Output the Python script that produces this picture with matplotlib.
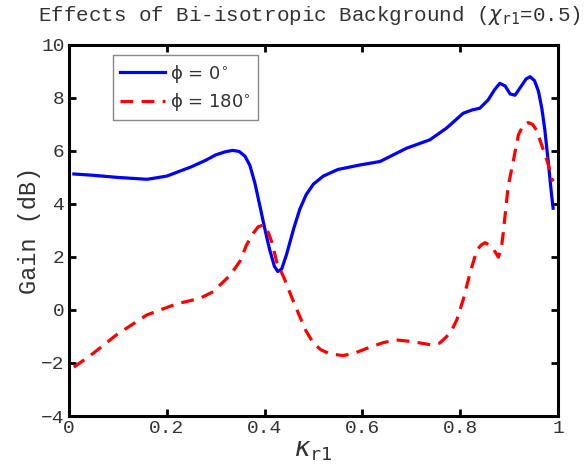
import matplotlib
matplotlib.use('Agg')
import matplotlib.pyplot as plt

# values
kappa_0 = [0.01, 0.05, 0.10, 0.16, 0.20, 0.25, 0.28, 0.30, 0.32, 0.335, 0.348, 0.36,
           0.37, 0.38, 0.39, 0.40, 0.41, 0.42, 0.427, 0.435, 0.445, 0.46, 0.472,
           0.485, 0.50, 0.52, 0.55, 0.595, 0.636, 0.69, 0.738, 0.772, 0.806, 0.825,
           0.84, 0.857, 0.87, 0.881, 0.892, 0.902, 0.912, 0.925, 0.935, 0.943, 0.952,
           0.96, 0.967, 0.973, 0.98, 0.986, 0.99]
gain_0 = [5.13, 5.08, 5.0, 4.93, 5.05, 5.4, 5.65, 5.85, 5.97, 6.02, 5.98, 5.8,
          5.45, 4.8, 3.96, 3.1, 2.3, 1.65, 1.45, 1.55, 2.1, 3.1, 3.8,
          4.35, 4.75, 5.05, 5.3, 5.47, 5.6, 6.1, 6.42, 6.86, 7.42, 7.55,
          7.61, 7.92, 8.3, 8.55, 8.45, 8.15, 8.1, 8.45, 8.72, 8.8, 8.65,
          8.25, 7.6, 6.8, 5.6, 4.5, 3.84]

kappa_180 = [0.01, 0.05, 0.097, 0.159, 0.22, 0.268, 0.295, 0.33, 0.35, 0.363, 0.377,
             0.387, 0.397, 0.405, 0.415, 0.425, 0.44, 0.455, 0.472, 0.485, 0.50,
             0.515, 0.534, 0.561, 0.585, 0.609, 0.643, 0.67, 0.704, 0.742, 0.758,
             0.772, 0.783, 0.793, 0.806, 0.82, 0.834, 0.843, 0.851, 0.864, 0.873,
             0.878, 0.884, 0.888, 0.898, 0.909, 0.919, 0.929, 0.939, 0.948, 0.956,
             0.97, 0.98, 0.987, 0.99]
gain_180 = [-2.16, -1.63, -0.94, -0.19, 0.23, 0.44, 0.69, 1.32, 1.85, 2.45, 2.9,
            3.14, 3.2, 3.05, 2.55, 1.8, 1.2, 0.5, -0.25, -0.8, -1.26,
            -1.5, -1.66, -1.72, -1.62, -1.45, -1.23, -1.13, -1.2, -1.32, -1.25,
            -1.01, -0.75, -0.38, 0.38, 1.38, 2.26, 2.45, 2.54, 2.39, 2.15,
            1.99, 2.3, 2.9, 4.65, 5.66, 6.6, 6.98, 7.07, 7.0, 6.79,
            6.04, 5.5, 4.97, 4.85]

labels = ['ϕ = 0$^{\\circ}$', 'ϕ = 180$^{\\circ}$']
xticks = [0, 0.2, 0.4, 0.6, 0.8, 1]
xticklabels = ['0', '0.2', '0.4', '0.6', '0.8', '1']
yticks = [-4, -2, 0, 2, 4, 6, 8, 10]

mono = 'Liberation Mono'
txtcol = '#333333'

fig = plt.figure(figsize=(5.87, 4.73), dpi=100)
ax = fig.add_axes([0.1175, 0.1205, 0.8331, 0.7846])

ax.plot(kappa_0, gain_0, color='#0000ff', lw=2.3, label=labels[0])
ax.plot(kappa_180, gain_180, color='#ff0000', lw=2.3, ls=(0, (4, 2.6)), label=labels[1])

ax.set_xlim(0, 1)
ax.set_ylim(-4, 10)
ax.set_xticks(xticks)
ax.set_xticklabels(xticklabels)
ax.set_yticks(yticks)
for lab in ax.get_xticklabels() + ax.get_yticklabels():
    lab.set_fontfamily(mono)
    lab.set_fontsize(14)
    lab.set_color(txtcol)
ax.tick_params(direction='in', length=5, width=2, top=True, right=True, pad=3)
for sp in ax.spines.values():
    sp.set_linewidth(2.2)

ax.set_ylabel('Gain (dB)', family=mono, fontsize=17, color=txtcol, labelpad=0)
ax.set_xlabel(r'$\kappa_{\mathtt{r1}}$', fontsize=19, color=txtcol, labelpad=0)
fig.text(0.527, 0.968, r'Effects of Bi-isotropic Background ($\chi_{\mathtt{r1}}$=0.5)',
         family=mono, fontsize=15, color=txtcol, ha='center', va='center')

leg = ax.legend(loc='upper left', bbox_to_anchor=(0.09, 0.972), borderaxespad=0,
                fancybox=False, framealpha=1, edgecolor='#888888',
                prop={'family': 'DejaVu Sans', 'size': 13},
                handlelength=2.5, handletextpad=0.25, labelspacing=0.35,
                borderpad=0.4)
for t in leg.get_texts():
    t.set_color(txtcol)
leg.get_frame().set_linewidth(1.0)

fig.savefig('out.png', dpi=100)
